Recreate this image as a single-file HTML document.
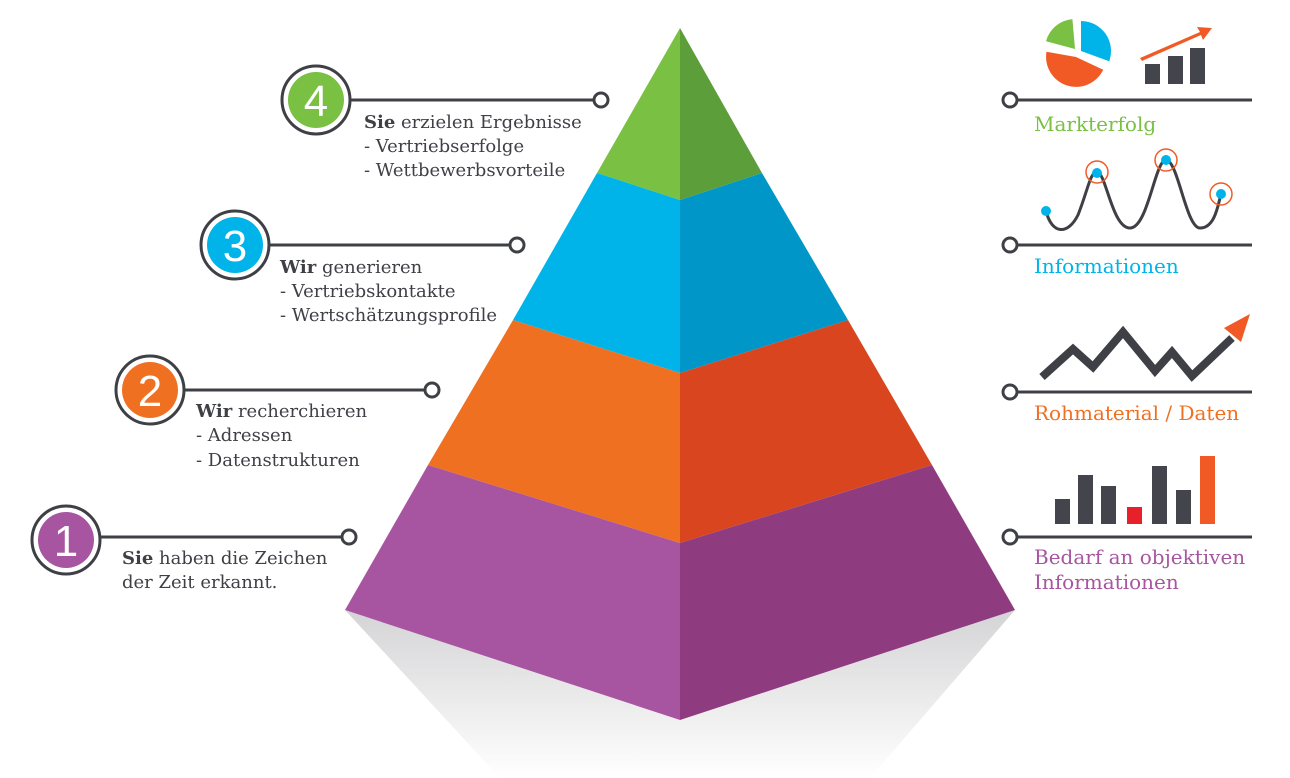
<!DOCTYPE html>
<html><head><meta charset="utf-8"><style>
body{margin:0;background:#fff;}
svg{display:block;}
text{font-family:"DejaVu Serif","Liberation Serif",serif;}
</style></head><body>
<svg width="1290" height="778" viewBox="0 0 1290 778" xmlns="http://www.w3.org/2000/svg">
<defs>
<linearGradient id="sh" x1="0" y1="0" x2="0" y2="1">
<stop offset="0" stop-color="#d4d4d6"/><stop offset="1" stop-color="#ffffff"/>
</linearGradient>
</defs>
<polygon points="345,610 680,720 1015,610 870,778 500,778" fill="url(#sh)"/>
<polygon points="680,28 597,173 680,200" fill="#79c043"/>
<polygon points="680,28 762,173 680,200" fill="#5c9e3a"/>
<polygon points="597,173 680,200 680,373 513,320" fill="#00b4e9"/>
<polygon points="762,173 680,200 680,373 848,320" fill="#0097c8"/>
<polygon points="513,320 680,373 680,543 428,465" fill="#f07022"/>
<polygon points="848,320 680,373 680,543 932,465" fill="#d9451f"/>
<polygon points="428,465 680,543 680,720 345,610" fill="#a855a1"/>
<polygon points="932,465 680,543 680,720 1015,610" fill="#8e3b80"/>

<g stroke="#3f4046" stroke-width="3" fill="#fff">
<line x1="348" y1="100" x2="594" y2="100"/><circle cx="601" cy="100" r="7"/>
<line x1="268" y1="245" x2="510" y2="245"/><circle cx="517" cy="245" r="7"/>
<line x1="183" y1="390" x2="425" y2="390"/><circle cx="432" cy="390" r="7"/>
<line x1="99" y1="537" x2="342" y2="537"/><circle cx="349" cy="537" r="7"/>
<line x1="1017" y1="100" x2="1252" y2="100"/><circle cx="1010" cy="100" r="7"/>
<line x1="1017" y1="245" x2="1252" y2="245"/><circle cx="1010" cy="245" r="7"/>
<line x1="1017" y1="392" x2="1252" y2="392"/><circle cx="1010" cy="392" r="7"/>
<line x1="1017" y1="537" x2="1252" y2="537"/><circle cx="1010" cy="537" r="7"/>
</g>
<g stroke="#3f4046" stroke-width="3" fill="#fff">
<circle cx="316" cy="100" r="34"/><circle cx="235" cy="245" r="34"/><circle cx="150" cy="390" r="34"/><circle cx="66" cy="540" r="34"/>
</g>
<circle cx="316" cy="100" r="28" fill="#79c043"/>
<circle cx="235" cy="245" r="28" fill="#00b4e9"/>
<circle cx="150" cy="390" r="28" fill="#f07022"/>
<circle cx="66" cy="540" r="28" fill="#a855a1"/>
<g fill="#fff" font-size="44" text-anchor="middle">
<text x="316" y="116" style="font-family:'Liberation Sans',sans-serif">4</text>
<text x="235" y="261" style="font-family:'Liberation Sans',sans-serif">3</text>
<text x="150" y="406" style="font-family:'Liberation Sans',sans-serif">2</text>
<text x="66" y="556" style="font-family:'Liberation Sans',sans-serif">1</text>
</g>
<g fill="#3f4046" font-size="18">
<text x="364" y="128"><tspan font-weight="bold">Sie</tspan> erzielen Ergebnisse</text>
<text x="364" y="152">- Vertriebserfolge</text>
<text x="364" y="176">- Wettbewerbsvorteile</text>
<text x="280" y="273"><tspan font-weight="bold">Wir</tspan> generieren</text>
<text x="280" y="297">- Vertriebskontakte</text>
<text x="280" y="321">- Wertschätzungsprofile</text>
<text x="196" y="417"><tspan font-weight="bold">Wir</tspan> recherchieren</text>
<text x="196" y="441">- Adressen</text>
<text x="196" y="466">- Datenstrukturen</text>
<text x="122" y="564"><tspan font-weight="bold">Sie</tspan> haben die Zeichen</text>
<text x="122" y="588">der Zeit erkannt.</text>
</g>
<g font-size="20">
<text x="1034" y="131" fill="#79c043">Markterfolg</text>
<text x="1034" y="273" fill="#00b4e9">Informationen</text>
<text x="1034" y="420" fill="#f07022">Rohmaterial / Daten</text>
<text x="1034" y="564" fill="#a855a1">Bedarf an objektiven</text>
<text x="1034" y="589" fill="#a855a1">Informationen</text>
</g>
<!-- pie -->
<path d="M1076,57 L1103.2,69.7 A30,30 0 0 1 1046.5,51.8 Z" fill="#f15a24"/>
<path d="M1081,51 L1081,21 A30,30 0 0 1 1109.2,61.3 Z" fill="#00b4e9"/>
<path d="M1075,49 L1046,41.2 A30,30 0 0 1 1072.4,19.1 Z" fill="#79c043"/>
<g fill="#44454c"><rect x="1145" y="64" width="15" height="20"/><rect x="1168" y="56" width="15" height="28"/><rect x="1190" y="48" width="15" height="36"/></g>
<polygon points="1140,58 1200,32 1197,27 1212,28 1203,40 1201,35 1142,61" fill="#f15a24"/>
<path d="M1046,211 C1052,235 1068,235 1078,215 C1088,190 1090,172 1097,172 C1106,172 1112,228 1130,228 C1148,228 1155,160 1166,160 C1178,160 1186,228 1200,228 C1215,228 1218,205 1221,194" fill="none" stroke="#3f4046" stroke-width="3"/>
<g fill="#00b4e9"><circle cx="1046" cy="211" r="5"/><circle cx="1097" cy="173" r="5"/><circle cx="1166" cy="160" r="5"/><circle cx="1221" cy="194" r="5"/></g>
<g fill="none" stroke="#f15a24" stroke-width="1.5"><circle cx="1097" cy="172" r="11"/><circle cx="1166" cy="160" r="11"/><circle cx="1221" cy="194" r="11"/></g>
<polyline points="1042,377 1073,349 1093,367 1123,332 1155,371 1172,352 1192,376 1232,338" fill="none" stroke="#3f4046" stroke-width="8" stroke-linejoin="miter"/>
<polygon points="1224,328 1250,314 1241,342" fill="#f15a24"/>
<g fill="#44454c"><rect x="1055" y="499" width="15" height="25"/><rect x="1078" y="475" width="15" height="49"/><rect x="1101" y="486" width="15" height="38"/><rect x="1152" y="466" width="15" height="58"/><rect x="1176" y="490" width="15" height="34"/></g>
<rect x="1127" y="507" width="15" height="17" fill="#e8202a"/>
<rect x="1200" y="456" width="15" height="68" fill="#f15a24"/>
</svg>
</body></html>
